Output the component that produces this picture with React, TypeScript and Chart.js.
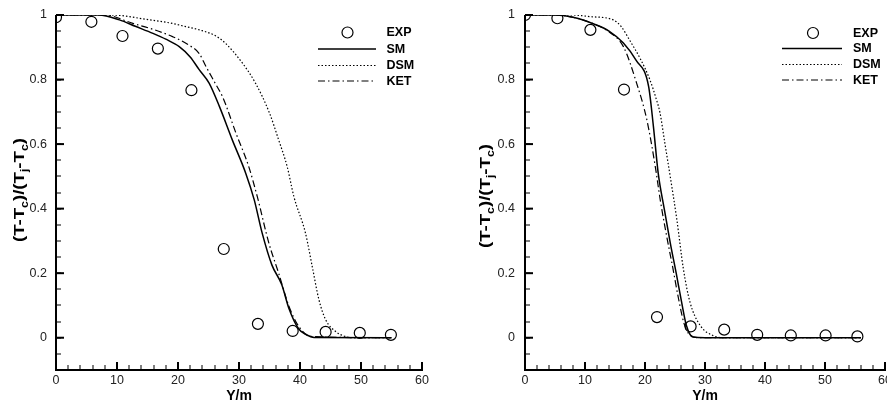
import React, { useEffect, useRef } from 'react';
import { Chart, registerables } from 'chart.js';

Chart.register(...registerables);

// ---------- axes ----------
const X_MIN = 0;
const X_MAX = 60;
const Y_MIN = -0.1;
const Y_MAX = 1;
const X_MAJOR_TICKS = [0, 10, 20, 30, 40, 50, 60];
const X_TICK_LABELS = ['0', '10', '20', '30', '40', '50', '60'];
const Y_MAJOR_TICKS = [0, 0.2, 0.4, 0.6, 0.8, 1];
const Y_TICK_LABELS = ['0', '0.2', '0.4', '0.6', '0.8', '1'];
const X_MINOR_STEP = 2;
const Y_MINOR_STEP = 0.05;
const X_TITLE = 'Y/m';
const SERIES_LABELS = ['EXP', 'SM', 'DSM', 'KET'];

// ---------- left panel ----------
const L_EXP_X = [0, 5.8, 10.9, 16.7, 22.2, 27.5, 33.1, 38.8, 44.2, 49.8, 54.9];
const L_EXP_Y = [0.993, 0.979, 0.935, 0.896, 0.767, 0.275, 0.043, 0.021, 0.018, 0.015, 0.009];

const L_SM_X = [0, 7, 10.4, 13, 15.9, 18, 20.2, 22, 23.5, 25.1, 26.8, 28.9, 31.1, 32.5, 33.8, 35.4, 37.0, 38.2, 39.8, 41, 42.3, 55];
const L_SM_Y = [1, 1, 0.985, 0.965, 0.943, 0.925, 0.902, 0.87, 0.83, 0.789, 0.716, 0.613, 0.51, 0.427, 0.324, 0.225, 0.165, 0.09, 0.027, 0.01, 0.001, 0];

const L_DSM_X = [0, 9, 15.3, 18.5, 21.3, 23.5, 26.2, 27.8, 30.6, 32.7, 35.0, 36.5, 37.9, 39.0, 40.9, 42.0, 43.1, 44.2, 45.8, 47.4, 49, 55];
const L_DSM_Y = [1, 1, 0.985, 0.976, 0.964, 0.954, 0.935, 0.912, 0.85, 0.789, 0.696, 0.613, 0.53, 0.437, 0.324, 0.221, 0.118, 0.056, 0.02, 0.004, 0, 0];

const L_KET_X = [0, 8, 12.6, 16, 19.1, 21.5, 23.5, 24.6, 26.2, 27.3, 29.5, 31.6, 33.0, 34.9, 36.5, 38.2, 39.8, 41.7, 55];
const L_KET_Y = [1, 1, 0.974, 0.955, 0.933, 0.91, 0.88, 0.84, 0.785, 0.747, 0.634, 0.53, 0.437, 0.293, 0.2, 0.097, 0.035, 0.004, 0];

// ---------- right panel ----------
const R_EXP_X = [0, 5.4, 10.9, 16.5, 22.0, 27.6, 33.2, 38.7, 44.3, 50.1, 55.4];
const R_EXP_Y = [1.0, 0.99, 0.954, 0.769, 0.064, 0.035, 0.025, 0.009, 0.007, 0.007, 0.004];

const R_SM_X = [0, 5, 8, 11.9, 14, 16.4, 18.5, 20.6, 21.4, 22.2, 23.2, 24.2, 25.2, 26.1, 26.9, 28.0, 30, 56];
const R_SM_Y = [1, 1, 0.993, 0.969, 0.95, 0.913, 0.86, 0.779, 0.655, 0.51, 0.4, 0.295, 0.2, 0.11, 0.038, 0.002, 0, 0];

const R_DSM_X = [0, 8, 10.8, 14.7, 16, 17.5, 19.2, 20.8, 21.9, 22.5, 23.3, 24.2, 25.3, 26.4, 27.5, 29.2, 31.3, 33.5, 56];
const R_DSM_Y = [1, 1, 0.995, 0.985, 0.965, 0.92, 0.865, 0.8, 0.738, 0.697, 0.604, 0.5, 0.367, 0.213, 0.11, 0.038, 0.007, 0, 0];

const R_KET_X = [0, 5, 8, 11.9, 14, 16.4, 18.6, 20.3, 21.7, 22.6, 23.6, 24.6, 25.6, 26.5, 27.5, 29, 56];
const R_KET_Y = [1, 1, 0.993, 0.969, 0.948, 0.902, 0.789, 0.676, 0.532, 0.42, 0.316, 0.22, 0.12, 0.045, 0.008, 0, 0];

const FONT = '"Liberation Sans", Arial, Helvetica, sans-serif';

const toPts = (xs: number[], ys: number[]) => xs.map((x, i) => ({ x, y: ys[i] }));

const LINE_STYLES = [
  { width: 1.5, dash: [] as number[] },
  { width: 1.2, dash: [1.5, 2] },
  { width: 1.2, dash: [7, 3, 1.5, 3] },
];

type PanelCfg = {
  canvasLeft: number;
  canvasWidth: number;
  yAxisWidth: number;
  padRight: number;
  yLabelPad: number;
  yTitleX: number;
  yTitleY: number;
  legendCircleX: number;
  legendLineX0: number;
  legendLineX1: number;
  legendTextX: number;
  legendRows: number[];
  exp: { x: number; y: number }[];
  lines: { x: number; y: number }[][];
};

function drawYTitle(ctx: CanvasRenderingContext2D, cx: number, cy: number) {
  const segs: [string, boolean][] = [
    ['(T-T', false], ['c', true], [')/(T', false], ['j', true], ['-T', false], ['c', true], [')', false],
  ];
  const big = `bold 15px ${FONT}`;
  const small = `bold 10px ${FONT}`;
  let total = 0;
  const widths = segs.map(([t, s]) => {
    ctx.font = s ? small : big;
    const w = ctx.measureText(t).width;
    total += w;
    return w;
  });
  const target = 104;
  const sx = target / total;
  ctx.save();
  ctx.translate(cx, cy);
  ctx.rotate(-Math.PI / 2);
  ctx.scale(sx, 1);
  ctx.fillStyle = '#000';
  ctx.textBaseline = 'alphabetic';
  ctx.textAlign = 'left';
  let x = -total / 2;
  segs.forEach(([t, s], i) => {
    ctx.font = s ? small : big;
    ctx.fillText(t, x, s ? 9 : 5);
    x += widths[i];
  });
  ctx.restore();
}

function makeDecor(cfg: PanelCfg) {
  return {
    id: 'panelDecor',
    afterDraw(chart: any) {
      const ctx: CanvasRenderingContext2D = chart.ctx;
      const ca = chart.chartArea;
      const xs = chart.scales['x'];
      const ys = chart.scales['y'];
      const xPix = (v: number) => Number(xs.getPixelForValue(v));
      const yPix = (v: number) => Number(ys.getPixelForValue(v));
      const x0 = Number(ca.left);
      const x1 = Number(ca.right);
      const yb = Number(ca.bottom);
      const yt = Number(ca.top);
      ctx.save();
      ctx.setTransform(1, 0, 0, 1, 0, 0);
      ctx.globalAlpha = 1;
      ctx.globalCompositeOperation = 'source-over';
      ctx.fillStyle = '#000000';

      // axis lines
      ctx.fillRect(x0 - 1, yt, 2, yb - yt + 1);
      ctx.fillRect(x0 - 1, yb - 1, x1 - x0 + 2, 2);

      // minor ticks (inward)
      for (let k = 0; X_MIN + k * X_MINOR_STEP <= X_MAX + 1e-9; k++) {
        const p = xPix(X_MIN + k * X_MINOR_STEP);
        ctx.fillRect(Math.round(p) - 0.5, yb - 5, 1, 5);
      }
      for (let k = 0; Y_MIN + k * Y_MINOR_STEP <= Y_MAX + 1e-9; k++) {
        const p = yPix(Y_MIN + k * Y_MINOR_STEP);
        ctx.fillRect(x0, Math.round(p) - 0.5, 5, 1);
      }
      // major ticks (inward)
      X_MAJOR_TICKS.forEach((v) => {
        const p = xPix(v);
        ctx.fillRect(p - 1, yb - 8, 2, 8);
      });
      Y_MAJOR_TICKS.forEach((v) => {
        const p = yPix(v);
        ctx.fillRect(x0, p - 1, 8, 2);
      });

      // legend
      ctx.strokeStyle = '#000';
      ctx.font = `bold 12.5px ${FONT}`;
      ctx.textBaseline = 'middle';
      ctx.textAlign = 'left';
      SERIES_LABELS.forEach((label, i) => {
        const ry = cfg.legendRows[i];
        if (i === 0) {
          ctx.setLineDash([]);
          ctx.lineWidth = 1.2;
          ctx.beginPath();
          ctx.arc(cfg.legendCircleX, ry, 5.5, 0, Math.PI * 2);
          ctx.stroke();
        } else {
          const st = LINE_STYLES[i - 1];
          ctx.setLineDash(st.dash);
          ctx.lineWidth = st.width;
          ctx.beginPath();
          ctx.moveTo(cfg.legendLineX0, ry);
          ctx.lineTo(cfg.legendLineX1, ry);
          ctx.stroke();
        }
        ctx.fillText(label, cfg.legendTextX, ry + 0.5);
      });
      ctx.setLineDash([]);

      // x title
      ctx.font = `bold 14px ${FONT}`;
      ctx.textAlign = 'center';
      ctx.textBaseline = 'middle';
      ctx.fillText(X_TITLE, (x0 + x1) / 2, 396);

      // y title
      drawYTitle(ctx, cfg.yTitleX, cfg.yTitleY);
      ctx.restore();
    },
  };
}

function buildConfig(cfg: PanelCfg): any {
  const datasets: any[] = [
    {
      label: SERIES_LABELS[0],
      data: cfg.exp,
      showLine: false,
      pointStyle: 'circle',
      pointRadius: 5.5,
      pointBorderWidth: 1.2,
      pointBorderColor: '#000',
      pointBackgroundColor: 'rgba(0,0,0,0)',
      order: 0,
    },
    ...cfg.lines.map((pts, i) => ({
      label: SERIES_LABELS[i + 1],
      data: pts,
      showLine: true,
      borderColor: '#000',
      borderWidth: LINE_STYLES[i].width,
      borderDash: LINE_STYLES[i].dash,
      pointRadius: 0,
      cubicInterpolationMode: 'monotone',
      fill: false,
      order: 1,
    })),
  ];
  return {
    type: 'scatter',
    data: { datasets },
    options: {
      responsive: false,
      animation: false,
      devicePixelRatio: 1,
      layout: { padding: { top: 15, right: cfg.padRight, left: 0, bottom: 0 } },
      plugins: { legend: { display: false }, tooltip: { enabled: false } },
      scales: {
        x: {
          type: 'linear',
          min: X_MIN,
          max: X_MAX,
          grid: { display: false, drawTicks: false },
          border: { display: false },
          afterBuildTicks: (s: any) => {
            s.ticks = X_MAJOR_TICKS.map((v) => ({ value: v }));
          },
          afterFit: (s: any) => {
            s.height = 36;
            s.paddingLeft = 0;
            s.paddingRight = 0;
          },
          ticks: {
            padding: 3,
            color: '#222',
            font: { family: FONT, size: 12.5 },
            maxRotation: 0,
            autoSkip: false,
            callback: (v: number) => {
              const i = X_MAJOR_TICKS.indexOf(v);
              return i >= 0 ? X_TICK_LABELS[i] : '';
            },
          },
        },
        y: {
          type: 'linear',
          min: Y_MIN,
          max: Y_MAX,
          grid: { display: false, drawTicks: false },
          border: { display: false },
          afterBuildTicks: (s: any) => {
            s.ticks = Y_MAJOR_TICKS.map((v) => ({ value: v }));
          },
          afterFit: (s: any) => {
            s.width = cfg.yAxisWidth;
            s.paddingTop = 0;
            s.paddingBottom = 0;
          },
          ticks: {
            padding: cfg.yLabelPad,
            color: '#222',
            font: { family: FONT, size: 12.5 },
            autoSkip: false,
            callback: (v: number) => {
              const i = Y_MAJOR_TICKS.findIndex((t) => Math.abs(t - v) < 1e-9);
              return i >= 0 ? Y_TICK_LABELS[i] : '';
            },
          },
        },
      },
    },
    plugins: [makeDecor(cfg)],
  };
}

const LEFT_CFG: PanelCfg = {
  canvasLeft: 0,
  canvasWidth: 443,
  yAxisWidth: 56,
  padRight: 21,
  yLabelPad: 9,
  yTitleX: 19,
  yTitleY: 190,
  legendCircleX: 347.5,
  legendLineX0: 318,
  legendLineX1: 376,
  legendTextX: 386.5,
  legendRows: [32.5, 49, 65.5, 81],
  exp: toPts(L_EXP_X, L_EXP_Y),
  lines: [toPts(L_SM_X, L_SM_Y), toPts(L_DSM_X, L_DSM_Y), toPts(L_KET_X, L_KET_Y)],
};

// the right canvas is wider than the window; its overflow (the tail of "60") is clipped, as in the reference
const RIGHT_CFG: PanelCfg = {
  canvasLeft: 443,
  canvasWidth: 454,
  yAxisWidth: 82,
  padRight: 12,
  yLabelPad: 10,
  yTitleX: 42,
  yTitleY: 196,
  legendCircleX: 370,
  legendLineX0: 339,
  legendLineX1: 399,
  legendTextX: 410,
  legendRows: [33, 48.5, 64.5, 80],
  exp: toPts(R_EXP_X, R_EXP_Y),
  lines: [toPts(R_SM_X, R_SM_Y), toPts(R_DSM_X, R_DSM_Y), toPts(R_KET_X, R_KET_Y)],
};

function Panel({ cfg }: { cfg: PanelCfg }) {
  const ref = useRef<HTMLCanvasElement | null>(null);
  useEffect(() => {
    if (!ref.current) return;
    const chart = new Chart(ref.current, buildConfig(cfg));
    return () => chart.destroy();
  }, [cfg]);
  return (
    <canvas
      ref={ref}
      width={cfg.canvasWidth}
      height={406}
      style={{ position: 'absolute', left: cfg.canvasLeft, top: 0, width: cfg.canvasWidth, height: 406 }}
    />
  );
}

export default function App() {
  return (
    <div style={{ position: 'fixed', left: 0, top: 0, width: 887, height: 406, background: '#fff', overflow: 'hidden' }}>
      <Panel cfg={LEFT_CFG} />
      <Panel cfg={RIGHT_CFG} />
    </div>
  );
}
